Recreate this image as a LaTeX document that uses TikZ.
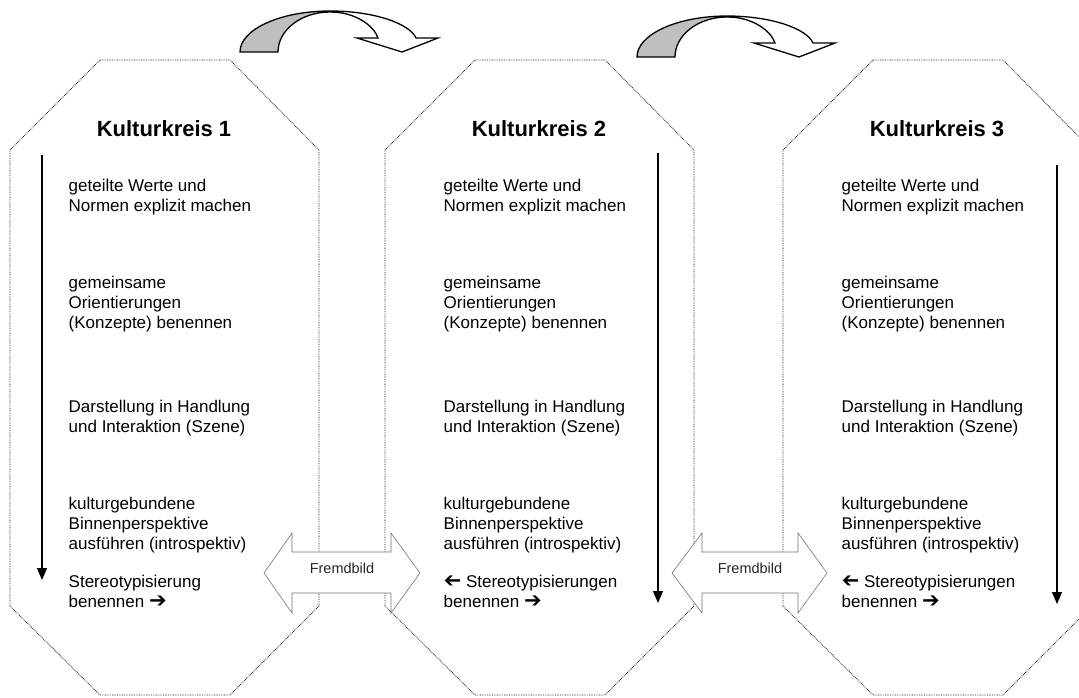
\documentclass[tikz,border=0pt]{standalone}
\usepackage{fontspec}
\setmainfont{Liberation Sans}
\newfontfamily\myarrowfont{DejaVu Sans}
\usetikzlibrary{arrows.meta}
\newcommand\myleftarr{{\myarrowfont\fontsize{21}{19.6}\selectfont\reflectbox{➔}}}
\newcommand\myrightarr{{\myarrowfont\fontsize{21}{19.6}\selectfont ➔}}
\tikzset{
  octa/.style={draw=black!85, line width=0.8pt, dash pattern=on 0.8pt off 0.9pt},
  flow/.style={line width=1.2pt, -{Triangle[length=12pt,width=10pt]}},
  ktitle/.style={font=\fontsize{22}{26}\selectfont\bfseries, inner sep=0pt, anchor=base},
  kbody/.style={font=\fontsize{17}{19.6}\selectfont, align=left, inner sep=0pt, anchor=base west},
  dbl/.style={draw=black!55, line width=0.6pt, fill=white, line join=miter},
  fbtext/.style={font=\fontsize{14.5}{17}\selectfont, inner sep=0pt, text=black!85},
  bendline/.style={draw=black, line width=1.3pt, line join=miter},
  bendfill/.style={fill=black!25},
}
\begin{document}
\begin{tikzpicture}[x=1pt,y=-1pt]
\useasboundingbox (0,0) rectangle (1079,697);
\clip (0,0) rectangle (1079,697);

% octagons
\foreach \L in {10,385,783} {
  \draw[octa] (\L,150) -- (\L+90,60) -- (\L+220,60) -- (\L+309,150)
    -- (\L+309,606) -- (\L+220,695) -- (\L+90,695) -- (\L,606) -- cycle;
}

% curved arrows on top
\foreach \dx/\dy in {0/0,397/5} {
  \begin{scope}[shift={(\dx,\dy)}]
    \fill[bendfill] (240,52) .. controls (240,29.4) and (280.3,11) .. (330,11.5)
      .. controls (301.3,12) and (278,29.9) .. (278,52) -- cycle;
    \draw[bendline] (240,52) .. controls (240,29.4) and (280.3,11) .. (330,11)
      .. controls (375,11) and (410,24) .. (416,38) -- (438,38) -- (402,52)
      -- (357,38) -- (378,38) .. controls (374,26) and (356,12) .. (330,12)
      .. controls (301.3,12) and (278,29.9) .. (278,52) -- cycle;
  \end{scope}
}

% Fremdbild double arrows
\foreach \tl/\bl/\br/\tr/\c/\n in {264/292/391/420/342/1, 672/702/798/827/750/2} {
  \draw[dbl] (\tl,573) -- (\bl,533) -- (\bl,552) -- (\br,552) -- (\br,533)
    -- (\tr,573) -- (\br,613) -- (\br,593) -- (\bl,593) -- (\bl,613) -- cycle;
  \node[fbtext] (fb\n) at (\c,568) {Fremdbild};
}

% vertical arrows
\coordinate (s1) at (42,155);   \coordinate (e1) at (42,580);
\coordinate (s2) at (658,153);  \coordinate (e2) at (658,603);
\coordinate (s3) at (1057,165); \coordinate (e3) at (1057,604);
\foreach \i in {1,2,3} { \draw[flow] (s\i) -- (e\i); }

% texts (base anchor = baseline of the last line)
\foreach \L/\i in {10/1,385/2,783/3} {
  \node[ktitle] (title\i) at (\L+154,136) {Kulturkreis \i};
  \node[kbody] (werte\i) at (\L+58.5,211) {geteilte Werte und\\Normen explizit machen};
  \node[kbody] (orient\i) at (\L+58.5,328) {gemeinsame\\Orientierungen\\(Konzepte) benennen};
  \node[kbody] (szene\i) at (\L+58.5,432) {Darstellung in Handlung\\und Interaktion (Szene)};
  \node[kbody] (binnen\i) at (\L+58.5,549) {kulturgebundene\\Binnenperspektive\\ausführen (introspektiv)};
}
\node[kbody] (stereo1) at (68.5,607) {Stereotypisierung\\benennen \myrightarr};
\node[kbody] (stereo2) at (443.5,607) {\myleftarr{} Stereotypisierungen\\benennen \myrightarr};
\node[kbody] (stereo3) at (841.5,607) {\myleftarr{} Stereotypisierungen\\benennen \myrightarr};
\end{tikzpicture}
\end{document}
